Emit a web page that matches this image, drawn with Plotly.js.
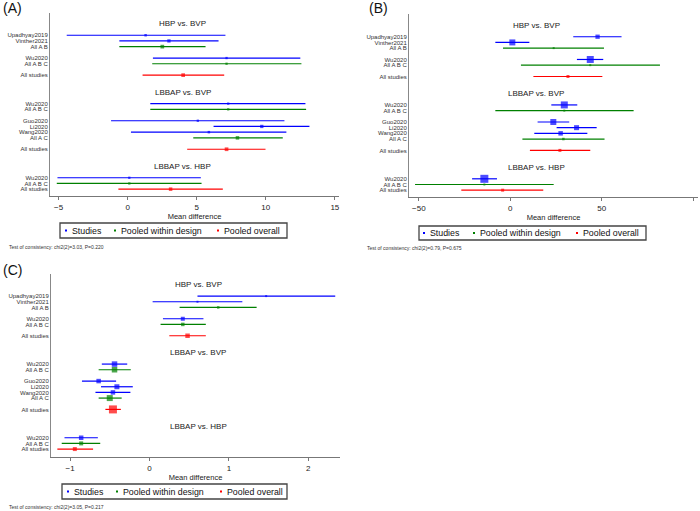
<!DOCTYPE html>
<html><head><meta charset="utf-8">
<script src="https://cdn.plot.ly/plotly-3.0.1.min.js"></script>
<style>html,body{margin:0;padding:0;background:#fff}#chart{width:700px;height:511px}</style>
</head><body><div id="chart"></div>
<script>
// ---- Data ----
const sectionTitles = ["HBP vs. BVP", "LBBAP vs. BVP", "LBBAP vs. HBP"];
// blocks per section (row labels)
const sec1Blocks = [["Upadhyay2019","Vinther2021","All A B"],["Wu2020","All A B C"],["All studies"]];
const sec2Blocks = [["Wu2020","All A B C"],["Guo2020","Li2020","Wang2020","All A C"],["All studies"]];
const sec3Blocks = [["Wu2020","All A B C","All studies"]];
// row type: S = study, D = pooled within design, O = pooled overall
const rowTypes = ["S","S","D","S","D","O","S","D","S","S","S","D","O","S","D","O"];

// Panel A
const estA = [1.30, 2.99, 2.51, 7.16, 7.16, 4.02, 7.28, 7.28, 5.08, 9.71, 5.88, 7.95, 7.16, 0.12, 0.12, 3.11];
const loA  = [-4.41, -0.60, -0.60, 1.83, 1.78, 1.08, 1.64, 1.64, -1.20, 6.22, 0.24, 4.75, 4.31, -5.08, -5.13, -0.67];
const hiA  = [7.08, 6.58, 5.64, 12.50, 12.58, 6.99, 12.87, 12.92, 11.35, 13.16, 11.49, 11.23, 9.98, 5.30, 5.35, 6.89];
const wA   = [2.5, 3.3, 3.7, 2.3, 2.3, 3.7, 2.3, 2.3, 2.3, 3.3, 2.5, 3.5, 3.7, 2.3, 2.3, 3.5];
// Panel B
const estB = [47.7, 1.1, 23.7, 43.7, 43.7, 31.5, 29.5, 29.5, 23.5, 36.2, 27.5, 29.0, 27.1, -14.2, -14.2, -4.2];
const loB  = [34.4, -8.2, -4.0, 36.4, 5.8, 12.6, 22.4, -8.2, 14.9, 25.3, 13.1, 6.6, 10.7, -20.9, -52.1, -26.8];
const hiB  = [60.8, 10.4, 51.2, 50.8, 81.8, 50.3, 36.6, 67.4, 32.2, 47.2, 42.1, 51.5, 43.7, -7.3, 23.7, 18.0];
const wB   = [4.3, 6, 2, 7, 2, 3, 7, 2, 6, 5, 4.5, 2.5, 3, 8, 2, 3];
// Panel C
const estC = [1.47, 0.605, 0.866, 0.42, 0.42, 0.48, -0.44, -0.44, -0.64, -0.41, -0.46, -0.50, -0.46, -0.86, -0.86, -0.94];
const loC  = [0.605, 0.04, 0.38, 0.17, 0.14, 0.25, -0.60, -0.64, -0.85, -0.61, -0.68, -0.64, -0.555, -1.07, -1.105, -1.16];
const hiC  = [2.34, 1.17, 1.35, 0.68, 0.71, 0.71, -0.28, -0.235, -0.42, -0.21, -0.24, -0.35, -0.36, -0.65, -0.62, -0.71];
const wC   = [2, 2, 2.5, 4, 3.5, 4.5, 5.5, 5.5, 4.5, 5, 4.5, 6, 8, 4.5, 4, 4];

const tickA = [-5, 0, 5, 10, 15];
const tickB = [-50, 0, 50, 100];
const tickC = [-1, 0, 1, 2];
const consistency = ["Test of consistency: chi2(2)=3.03, P=0.220",
                     "Test of consistency: chi2(2)=0.79, P=0.675",
                     "Test of consistency: chi2(2)=3.05, P=0.217"];
const legendNames = ["Studies", "Pooled within design", "Pooled overall"];

// ---- Row layout derived from structure ----
const sections = [sec1Blocks, sec2Blocks, sec3Blocks];
const rowPos = [], rowLab = [], titlePos = [];
let idx = -2;
sections.forEach((blocks) => {
  titlePos.push(idx);
  idx += 2;
  blocks.forEach((b, bi) => {
    b.forEach(l => { rowPos.push(idx); rowLab.push(l); idx += 1; });
    if (bi < blocks.length - 1) idx += 1;
  });
  idx += 2; // so next title = last + 3
});

const FONT = "Liberation Sans, Arial, sans-serif";
const colors = {S: "#0000ff", D: "#008000", O: "#ff0000"};
const typeOrder = ["S", "D", "O"];

const panels = [
  {est: estA, lo: loA, hi: hiA, w: wA, xa: "x", ya: "y"},
  {est: estB, lo: loB, hi: hiB, w: wB, xa: "x2", ya: "y2"},
  {est: estC, lo: loC, hi: hiC, w: wC, xa: "x3", ya: "y3"}
];

const traces = [];
panels.forEach(p => {
  typeOrder.forEach(t => {
    const ii = rowTypes.map((r, i) => r === t ? i : -1).filter(i => i >= 0);
    traces.push({
      type: "scatter", mode: "markers",
      x: ii.map(i => p.est[i]), y: ii.map(i => rowPos[i]),
      xaxis: p.xa, yaxis: p.ya, showlegend: false, hoverinfo: "x+y",
      marker: {symbol: "square", color: colors[t], size: ii.map(i => p.w[i]), line: {width: 0}},
      error_x: {type: "data", symmetric: false,
        array: ii.map(i => p.hi[i] - p.est[i]),
        arrayminus: ii.map(i => p.est[i] - p.lo[i]),
        width: 0, thickness: 1.2, color: colors[t]}
    });
  });
});

const W = 700, H = 511;
const px = v => v / W, py = v => 1 - v / H;

function xax(domL, domR, range, ticks) {
  return {domain: [px(domL), px(domR)], range: range, tickvals: ticks,
    ticks: "outside", ticklen: 3, tickcolor: "#777", tickwidth: 1,
    showline: true, linecolor: "#777", linewidth: 1,
    showgrid: false, zeroline: false, fixedrange: true,
    tickfont: {family: FONT, size: 8, color: "#222"},
    title: {text: "Mean difference", font: {family: FONT, size: 7.5, color: "#222"}, standoff: 3}};
}
function yax(top, bottom, range, anchor) {
  return {domain: [py(bottom), py(top)], range: range, anchor: anchor,
    tickvals: rowPos, ticktext: rowLab, ticks: "", showline: true, linecolor: "#888",
    linewidth: 1, showgrid: false, zeroline: false, fixedrange: true,
    ticklabelstandoff: 0,
    tickfont: {family: FONT, size: 6, color: "#333"}};
}

const annotations = [];
const shapes = [];
const titleX = [0.46, 0.44, 0.51];
["", "2", "3"].forEach((s, k) => {
  sectionTitles.forEach((t, j) => {
    annotations.push({text: t, xref: "x" + s + " domain", yref: "y" + s, x: titleX[k], y: titlePos[j],
      showarrow: false, xanchor: "center", yanchor: "middle",
      font: {family: FONT, size: 8, color: "#222"}});
  });
});
// panel labels
[["(A)", 1, 8], ["(B)", 367, 8], ["(C)", 1, 270]].forEach(l => {
  annotations.push({text: l[0], xref: "paper", yref: "paper", x: px(l[1]), y: py(l[2]),
    xanchor: "left", yanchor: "middle", showarrow: false, font: {family: FONT, size: 14, color: "#111"}});
});
// consistency notes
[[7, 247], [365, 248], [7, 507]].forEach((p, k) => {
  annotations.push({text: consistency[k], xref: "paper", yref: "paper", x: px(p[0]), y: py(p[1]),
    xanchor: "left", yanchor: "middle", showarrow: false, font: {family: FONT, size: 5, color: "#333"}});
});
// legends (box + coloured dots + text)
const legendBoxes = [
  {x0: 60, x1: 287, y0: 223, y1: 238, dots: [66, 115, 218]},
  {x0: 419, x1: 646, y0: 226, y1: 240, dots: [424, 474, 577]},
  {x0: 62, x1: 287, y0: 484, y1: 499, dots: [68, 117, 221]}
];
legendBoxes.forEach(b => {
  shapes.push({type: "rect", xref: "paper", yref: "paper", x0: px(b.x0), x1: px(b.x1), y0: py(b.y1), y1: py(b.y0),
    line: {color: "#444", width: 1.3}, fillcolor: "rgba(0,0,0,0)"});
  const yc = (b.y0 + b.y1) / 2;
  typeOrder.forEach((t, k) => {
    const d = b.dots[k];
    shapes.push({type: "rect", xref: "paper", yref: "paper", x0: px(d - 1), x1: px(d + 1),
      y0: py(yc + 1), y1: py(yc - 1), line: {width: 0}, fillcolor: colors[t]});
    annotations.push({text: legendNames[k],
      xref: "paper", yref: "paper", x: px(d + 4), y: py(yc), xanchor: "left", yanchor: "middle",
      showarrow: false, font: {family: FONT, size: 8.8, color: "#111"}});
  });
});

const layout = {
  width: W, height: H, margin: {l: 0, r: 0, t: 0, b: 0},
  paper_bgcolor: "#fff", plot_bgcolor: "#fff", showlegend: false,
  xaxis: Object.assign(xax(50, 339, [-5.62, 15.3], tickA), {anchor: "y"}),
  yaxis: yax(13, 196, [28.2, -3.9], "x"),
  xaxis2: Object.assign(xax(409, 698, [-55.4, 102.6], tickB), {anchor: "y2"}),
  yaxis2: yax(14, 197, [28.2, -4.0], "x2"),
  xaxis3: Object.assign(xax(51, 340, [-1.24, 2.40], tickC), {anchor: "y3"}),
  yaxis3: yax(274, 457, [28.4, -3.9], "x3"),
  annotations: annotations, shapes: shapes
};

Plotly.newPlot("chart", traces, layout, {staticPlot: true, displayModeBar: false});
</script></body></html>
